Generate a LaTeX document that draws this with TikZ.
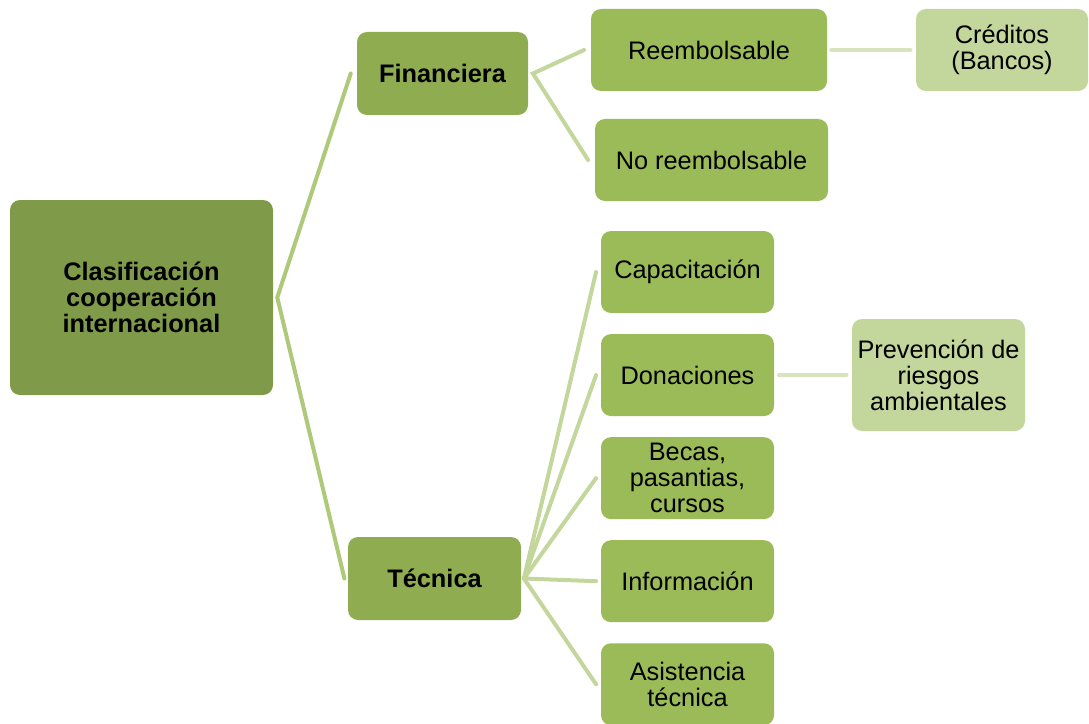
\documentclass[tikz,border=0pt]{standalone}
\usepackage{fontspec}
\setmainfont{Liberation Sans}
\usepackage{tikz}
\usetikzlibrary{positioning}

\definecolor{raiz}{HTML}{7F9A48}
\definecolor{nivuno}{HTML}{8FAC51}
\definecolor{nivdos}{HTML}{9BBB59}
\definecolor{nivtres}{HTML}{C3D69B}
\definecolor{lineauno}{HTML}{AEC979}
\definecolor{lineados}{HTML}{C3D69B}
\definecolor{lineatres}{HTML}{D7E4BD}

\tikzset{
  caja/.style={rounded corners=7.5pt, align=center, inner sep=2pt,
    font=\fontsize{19pt}{19.5pt}\selectfont, text=black},
  hoja/.style={caja, fill=nivdos, minimum width=129.75pt, minimum height=61.5pt},
  rama/.style={line width=3pt, line cap=round}
}

\begin{document}
\begin{tikzpicture}[x=0.75pt, y=-0.75pt, node distance=15.4pt]
  \useasboundingbox (0,0) rectangle (1089,724);

  \node[caja, fill=raiz, minimum width=197.25pt, minimum height=146.25pt, font=\fontsize{19pt}{19.5pt}\selectfont\bfseries]
    (clas) at (141.5,297.5) {Clasificación\\cooperación\\internacional};

  \node[caja, fill=nivuno, minimum width=128.25pt, minimum height=62.25pt, font=\fontsize{19pt}{19.5pt}\selectfont\bfseries]
    (fin) at (442.5,73.5) {Financiera};
  \node[caja, fill=nivuno, minimum width=129.75pt, minimum height=62.25pt, font=\fontsize{19pt}{19.5pt}\selectfont\bfseries]
    (tec) at (434.5,578.5) {Técnica};

  % financiera
  \node[hoja, minimum width=177pt] (reem) at (709,50) {Reembolsable};
  \node[hoja, minimum width=174.75pt] (noreem) at (711.5,160) {No reembolsable};
  \node[caja, fill=nivtres, minimum width=129pt, minimum height=61.5pt] (cred) at (1002,50) {Créditos\\(Bancos)};

  % tecnica
  \node[hoja] (capa) at (687.5,272) {Capacitación};
  \node[hoja, below=of capa] (dona) {Donaciones};
  \node[hoja, below=of dona] (becas) {Becas,\\pasantias,\\cursos};
  \node[hoja, below=of becas] (info) {Información};
  \node[hoja, below=of info] (asis) {Asistencia\\técnica};
  \node[caja, fill=nivtres, minimum width=129.75pt, minimum height=84pt] (prev) at (938.5,375) {Prevención de\\riesgos\\ambientales};

  \coordinate (clasR) at ([xshift=3pt]clas.east);
  \coordinate (finR) at ([xshift=3.5pt]fin.east);
  \coordinate (tecR) at ([xshift=2pt]tec.east);

  \draw[rama, lineauno] ([xshift=-4.5pt]fin.west) -- (clasR) -- ([xshift=-2.5pt]tec.west);

  \draw[rama, lineados] ([xshift=-5pt]reem.west) -- (finR) -- ([xshift=-5pt]noreem.west);
  \foreach \h in {capa,dona,becas,info,asis}
    \draw[rama, lineados] (tecR) -- ([xshift=-3.5pt]\h.west);

  \draw[rama, lineatres] ([xshift=3pt]reem.east) -- ([xshift=-4pt]cred.west);
  \draw[rama, lineatres] ([xshift=3.5pt]dona.east) -- ([xshift=-4pt]prev.west);
\end{tikzpicture}
\end{document}
